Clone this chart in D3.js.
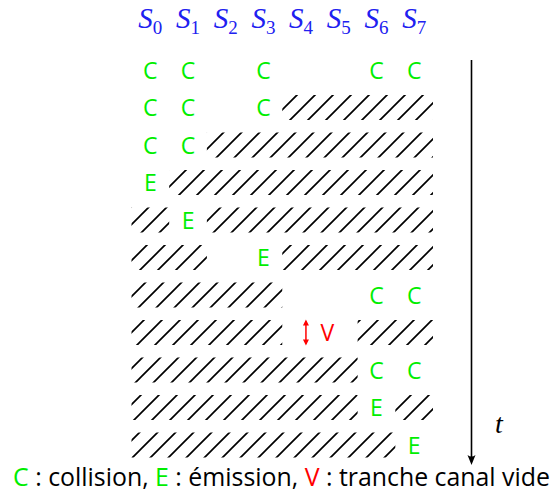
<!DOCTYPE html>
<html>
<head>
<meta charset="utf-8">
<script src="https://cdn.jsdelivr.net/npm/d3@7"></script>
<style>
  body { margin: 0; background: #fff; }
  svg { display: block; }
</style>
</head>
<body>
<div id="chart"></div>
<script>
// slot names along the top
var slots = ["0", "1", "2", "3", "4", "5", "6", "7"];

// one string per time step, one char per slot
// C = collision, E = emission, H = hatched (busy), . = nothing, V = empty channel slice (spans 2 slots)
var rows = [
  "CC.C..CC",
  "CC.CHHHH",
  "CCHHHHHH",
  "EHHHHHHH",
  "HEHHHHHH",
  "HH.EHHHH",
  "HHHH..CC",
  "HHHHV.HH",
  "HHHHHHCC",
  "HHHHHHEH",
  "HHHHHHHE"
];

// legend pieces
var legend = [
  { t: "C", c: "#00ee00" }, { t: " : collision, ", c: "#000" },
  { t: "E", c: "#00ee00" }, { t: " : émission, ", c: "#000" },
  { t: "V", c: "#ff0000" }, { t: " : tranche canal vide", c: "#000" }
];

var width = 553, height = 494;
var green = "#00ee00", blue = "#2020f0", red = "#ff0000";
var sans = "'Open Sans', 'Noto Sans', sans-serif";
var serif = "'Liberation Serif', 'DejaVu Serif', serif";

var svg = d3.select("#chart").append("svg")
    .attr("width", width)
    .attr("height", height);

var x = d3.scaleBand().domain(slots).range([131.5, 433]);
var y = d3.scalePoint().domain(d3.range(rows.length)).range([70, 445]);
var bandH = 25;

// hatch pattern, anchored in page space like tikz patterns
var defs = svg.append("defs");
var pat = defs.append("pattern")
    .attr("id", "hatch")
    .attr("patternUnits", "userSpaceOnUse")
    .attr("width", 18).attr("height", 18)
    .attr("patternTransform", "translate(14,0)");
pat.append("path")
    .attr("d", "M-4.5,4.5L4.5,-4.5M0,18L18,0M13.5,22.5L22.5,13.5")
    .attr("stroke", "#000")
    .attr("stroke-width", 1.7)
    .attr("stroke-linecap", "butt");

// column headers S_i
var head = svg.append("g").selectAll("text")
    .data(slots)
  .enter().append("text")
    .attr("x", function(d) { return x(d) + x.bandwidth() / 2; })
    .attr("y", 28)
    .attr("text-anchor", "middle")
    .attr("fill", blue)
    .style("font-family", serif);
head.append("tspan")
    .style("font-style", "italic")
    .style("font-size", "29px")
    .text("S");
head.append("tspan")
    .attr("dy", 6)
    .style("font-size", "19px")
    .text(function(d) { return d; });

// turn each row string into hatched runs + letters
var runs = [], marks = [], vmarks = [];
rows.forEach(function(r, i) {
  var start = -1;
  for (var j = 0; j <= r.length; j++) {
    var ch = r[j];
    if (ch === "H") {
      if (start < 0) start = j;
    } else {
      if (start >= 0) { runs.push({ row: i, a: start, b: j - 1 }); start = -1; }
      if (ch === "C" || ch === "E") marks.push({ row: i, col: j, t: ch });
      if (ch === "V") vmarks.push({ row: i, col: j });
    }
  }
});

svg.append("g").selectAll("rect")
    .data(runs)
  .enter().append("rect")
    .attr("x", function(d) { return x(slots[d.a]); })
    .attr("width", function(d) { return x(slots[d.b]) + x.bandwidth() - x(slots[d.a]); })
    .attr("y", function(d) { return y(d.row) - bandH / 2; })
    .attr("height", bandH)
    .attr("fill", "url(#hatch)");

svg.append("g").selectAll("text")
    .data(marks)
  .enter().append("text")
    .attr("x", function(d) { return x(slots[d.col]) + x.bandwidth() / 2; })
    .attr("y", function(d) { return y(d.row) + 8.5; })
    .attr("text-anchor", "middle")
    .attr("fill", green)
    .style("font-family", sans)
    .style("font-size", "23px")
    .text(function(d) { return d.t; });

// empty channel slice: red double arrow + V, centred between two slots
var vg = svg.append("g").selectAll("g")
    .data(vmarks)
  .enter().append("g")
    .attr("transform", function(d) {
      return "translate(" + (x(slots[d.col]) + x.bandwidth()) + "," + y(d.row) + ")";
    });
vg.append("path")
    .attr("d", "M-14,-11L-14,11")
    .attr("stroke", red).attr("stroke-width", 1.5);
vg.append("path")
    .attr("d", "M-14,-13L-17,-7L-11,-7ZM-14,13L-17,7L-11,7Z")
    .attr("fill", red);
vg.append("text")
    .attr("x", 7.5).attr("y", 8.5)
    .attr("text-anchor", "middle")
    .attr("fill", red)
    .style("font-family", sans)
    .style("font-size", "23px")
    .text("V");

// time arrow
svg.append("line")
    .attr("x1", 471.5).attr("x2", 471.5)
    .attr("y1", 60).attr("y2", 458)
    .attr("stroke", "#000").attr("stroke-width", 1.6);
svg.append("path")
    .attr("d", "M471.5,465L467.5,455Q471.5,458 475.5,455Z")
    .attr("fill", "#000");
svg.append("text")
    .attr("x", 499).attr("y", 433)
    .attr("text-anchor", "middle")
    .style("font-family", serif)
    .style("font-style", "italic")
    .style("font-size", "28px")
    .text("t");

// legend at the bottom, sized to the original width
var leg = svg.append("text")
    .attr("x", 281.5).attr("y", 486)
    .attr("text-anchor", "middle")
    .style("font-family", sans)
    .style("font-size", "22px");
leg.selectAll("tspan")
    .data(legend)
  .enter().append("tspan")
    .attr("fill", function(d) { return d.c; })
    .style("white-space", "pre")
    .text(function(d) { return d.t; });
leg.attr("xml:space", "preserve");
var len = leg.node().getComputedTextLength();
leg.style("font-size", (22 * 537 / len) + "px");
</script>
</body>
</html>
